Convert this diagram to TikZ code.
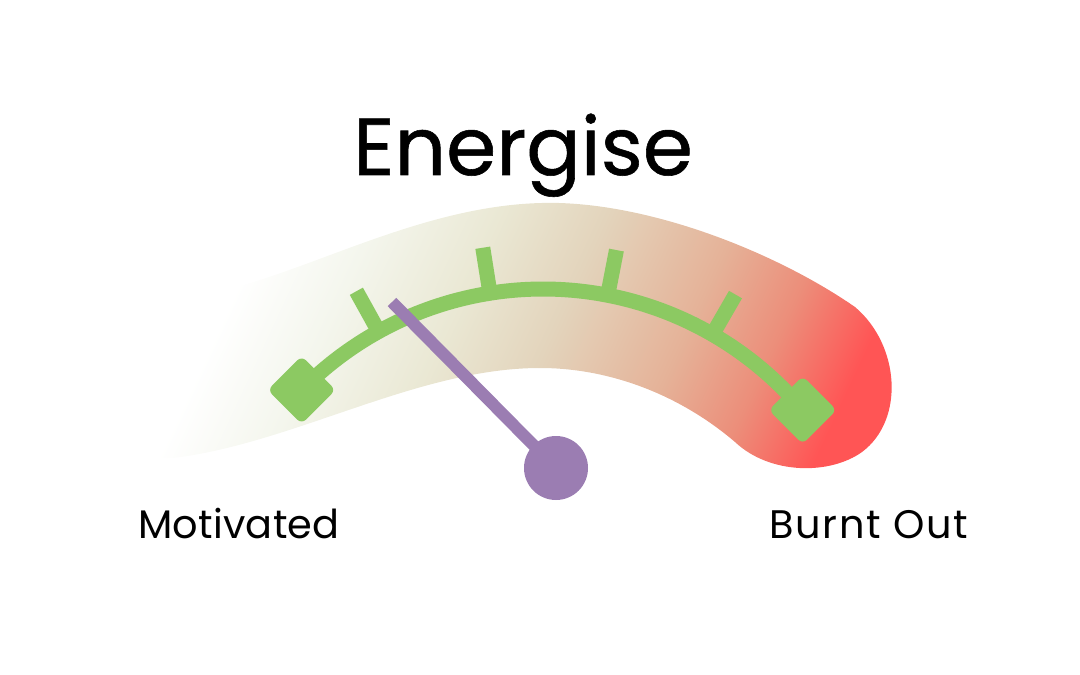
\documentclass[tikz,border=0pt]{standalone}
\usepackage{fontspec}
\setmainfont{Poppins}
\newfontfamily\titlefont{Poppins}[FakeBold=0.7]
\usetikzlibrary{calc}
\definecolor{gaugegreen}{RGB}{140,201,98}
\definecolor{needlepurple}{RGB}{155,125,178}
\definecolor{bandA}{RGB}{244,246,237}
\definecolor{bandB}{RGB}{234,232,212}
\definecolor{bandC}{RGB}{227,212,188}
\definecolor{bandD}{RGB}{229,178,152}
\definecolor{bandE}{RGB}{236,142,122}
\definecolor{bandF}{RGB}{255,85,85}
\pgfdeclarehorizontalshading{bandshade}{100bp}{color(0bp)=(white); color(27bp)=(white); color(35bp)=(bandA); color(44bp)=(bandB); color(52bp)=(bandC); color(62bp)=(bandD); color(69bp)=(bandE); color(76bp)=(bandF); color(100bp)=(bandF)}
\tikzset{
  arcline/.style={draw=gaugegreen, line width=15bp},
  tickline/.style={draw=gaugegreen, line width=15bp, line cap=butt},
  endbox/.style={fill=gaugegreen, rectangle, minimum size=48bp, inner sep=0pt, rounded corners=6bp, rotate=45},
  needle/.style={draw=needlepurple, line width=12bp, line cap=butt},
  pivot/.style={fill=needlepurple, circle, minimum size=64bp, inner sep=0pt},
  titletext/.style={font=\titlefont\fontsize{81}{88}\selectfont, inner sep=0pt, anchor=base},
  labeltext/.style={font=\fontsize{40}{44}\selectfont, inner sep=0pt, anchor=base},
}
\begin{document}
\begin{tikzpicture}[x=1bp, y=-1bp]
\useasboundingbox (0,0) rectangle (1080,675);
% band
\shade[shading=bandshade, shading angle=-25]
  (250,283) .. controls (340,256) and (445,200) .. (559,203)
  .. controls (660,206) and (780,255) .. (855,307)
  .. controls (900,345) and (905,420) .. (862,452)
  .. controls (830,475) and (770,475) .. (735,442)
  .. controls (680,395) and (610,368) .. (540,368)
  .. controls (420,368) and (300,440) .. (181,457)
  .. controls (160,460) and (145,458) .. (140,453)
  -- (200,318) .. controls (210,295) and (225,290) .. (250,283) -- cycle;
% gauge arc
\coordinate (C) at (543,628);
\coordinate (A1) at ($(C)+(-135.4:339)$);
\coordinate (A2) at ($(C)+(-40:339)$);
\draw[arcline] (A1) arc[start angle=-135.4, end angle=-40, radius=339];
\foreach \a/\n in {-119/t1,-99/t2,-79/t3,-60/t4}{
  \coordinate (\n a) at ($(C)+(\a:332)$);
  \coordinate (\n b) at ($(C)+(\a:385)$);
  \draw[tickline] (\n a) -- (\n b);
}
\node[endbox] (L) at (A1) {};
\node[endbox] (R) at (A2) {};
% needle
\node[pivot] (P) at (556,468) {};
\coordinate (T) at (392,302);
\draw[needle] (T) -- (P.center);
% texts
\node[titletext] (title) at (523,175) {Energise};
\node[labeltext, anchor=base west] (mot) at (138,538) {\addfontfeatures{LetterSpace=0.6}Motivated};
\node[labeltext, anchor=base east] (bo) at (968,538) {\addfontfeatures{LetterSpace=4.2}Burnt Out};
\end{tikzpicture}
\end{document}
